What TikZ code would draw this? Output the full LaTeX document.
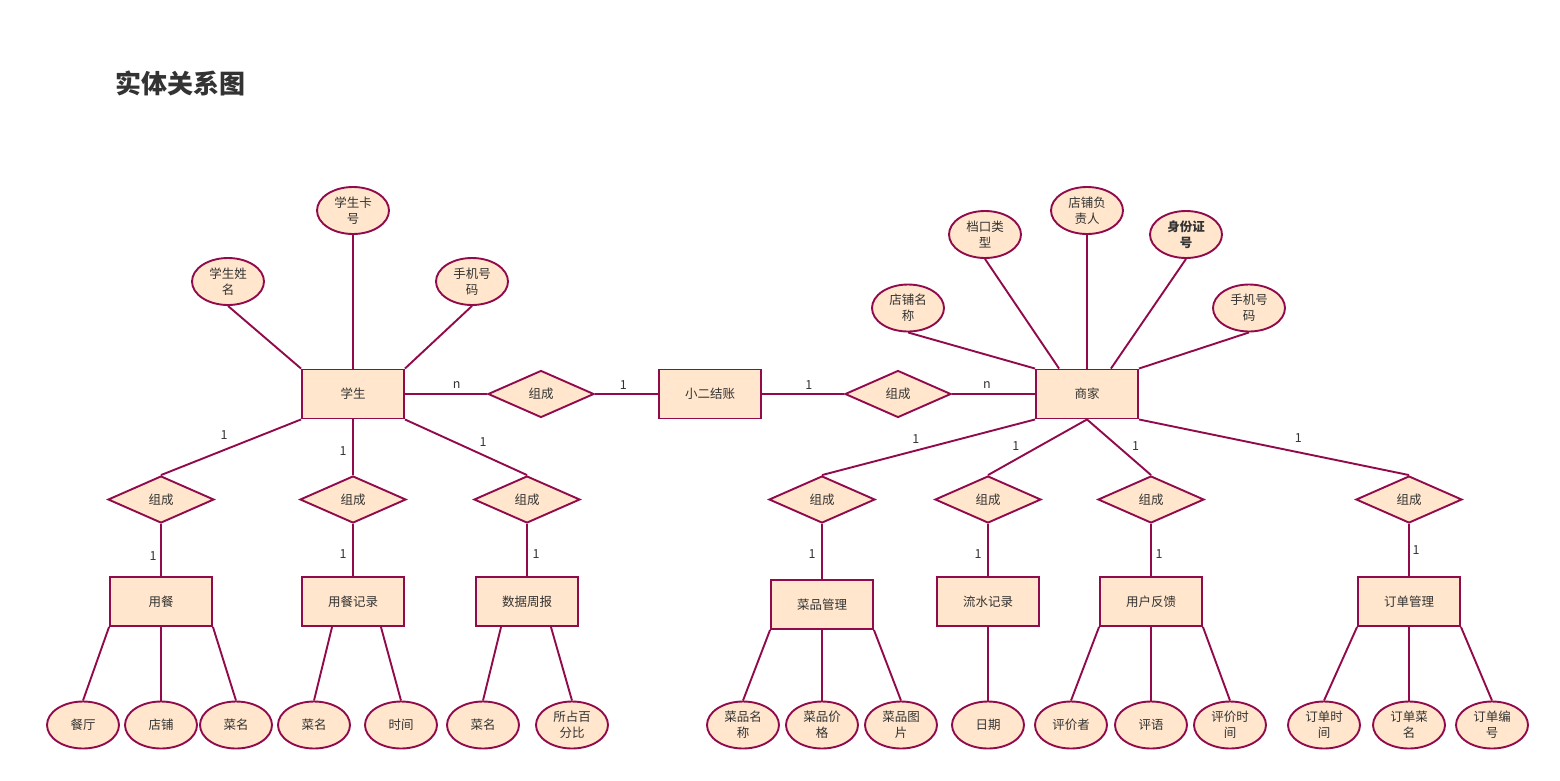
\documentclass[tikz,border=0pt]{standalone}
\usepackage{fontspec}
\newfontfamily\cjk{Noto Sans CJK SC}
\usetikzlibrary{shapes.geometric}
\definecolor{erline}{RGB}{145,10,75}
\definecolor{erfill}{RGB}{255,230,204}
\definecolor{ertext}{RGB}{51,51,51}
\tikzset{
	erbase/.style={draw=erline, fill=erfill, line width=1.9pt, inner sep=0pt, text=ertext, font=\cjk\fontsize{12.5}{16}\selectfont},
	ent/.style={erbase, rectangle, minimum width=102pt, minimum height=49pt},
	rel/.style={erbase, diamond, aspect=2.25, minimum width=106pt, minimum height=47pt},
	attr/.style={erbase, ellipse, minimum width=72pt, minimum height=47pt, align=center},
	conn/.style={draw=erline, line width=1.9pt},
	lbl/.style={text=ertext, inner sep=0pt, font=\cjk\fontsize{12.5}{16}\selectfont}
}
\begin{document}
\begin{tikzpicture}[x=1pt,y=-1pt]
	\useasboundingbox (0,0) rectangle (1560,780);
	\node[anchor=west, text=ertext, font=\cjk\bfseries\fontsize{26}{30}\selectfont] (title) at (112,83) {实体关系图};

	% entities
	\node[ent] (xs) at (353,394) {学生};
	\node[ent] (xe) at (710,394) {小二结账};
	\node[ent] (sj) at (1087,394) {商家};
	\node[ent] (yc) at (161,601.5) {用餐};
	\node[ent] (ycjl) at (353,601.5) {用餐记录};
	\node[ent] (sjzb) at (527,601.5) {数据周报};
	\node[ent] (cpgl) at (822,604.5) {菜品管理};
	\node[ent] (lsjl) at (988,601.5) {流水记录};
	\node[ent] (yhfk) at (1151,601.5) {用户反馈};
	\node[ent] (ddgl) at (1409,601.5) {订单管理};

	% relations
	\node[rel] (zc1) at (541,394) {组成};
	\node[rel] (zc2) at (898,394) {组成};
	\node[rel] (zc3) at (161,499.5) {组成};
	\node[rel] (zc4) at (353,499.5) {组成};
	\node[rel] (zc5) at (527,499.5) {组成};
	\node[rel] (zc6) at (822,499.5) {组成};
	\node[rel] (zc7) at (988,499.5) {组成};
	\node[rel] (zc8) at (1151,499.5) {组成};
	\node[rel] (zc9) at (1409,499.5) {组成};

	% attributes of the top entities
	\node[attr] (xskh) at (353,210.5) {学生卡\\号};
	\node[attr] (xsxm) at (228,281.5) {学生姓\\名};
	\node[attr] (xssj) at (472,281.5) {手机号\\码};
	\node[attr] (dpmc) at (908,308) {店铺名\\称};
	\node[attr] (dklx) at (985,234.5) {档口类\\型};
	\node[attr] (dpfz) at (1087,210.5) {店铺负\\责人};
	\node[attr, font=\cjk\bfseries\fontsize{12.5}{16}\selectfont] (sfzh) at (1186,234.5) {身份证\\号};
	\node[attr] (sjsj) at (1249,308) {手机号\\码};

	% attributes of the bottom entities
	\node[attr] (ct) at (83,725) {餐厅};
	\node[attr] (dp) at (161,725) {店铺};
	\node[attr] (cm1) at (236,725) {菜名};
	\node[attr] (cm2) at (314,725) {菜名};
	\node[attr] (sjan) at (401,725) {时间};
	\node[attr] (cm3) at (483,725) {菜名};
	\node[attr] (bfb) at (572,725) {所占百\\分比};
	\node[attr] (cpmc) at (743,725) {菜品名\\称};
	\node[attr] (cpjg) at (822,725) {菜品价\\格};
	\node[attr] (cptp) at (901,725) {菜品图\\片};
	\node[attr] (rq) at (988,725) {日期};
	\node[attr] (pjz) at (1071,725) {评价者};
	\node[attr] (py) at (1151,725) {评语};
	\node[attr] (pjsj) at (1230,725) {评价时\\间};
	\node[attr] (ddsj) at (1324,725) {订单时\\间};
	\node[attr] (ddcm) at (1409,725) {订单菜\\名};
	\node[attr] (ddbh) at (1492,725) {订单编\\号};

	% main chain
	\draw[conn] (xs.east) -- node[lbl, pos=.63, yshift=9pt] {n} (zc1.west);
	\draw[conn] (zc1.east) -- node[lbl, pos=.45, yshift=9pt] {1} (xe.west);
	\draw[conn] (xe.east) -- node[lbl, pos=.57, yshift=9pt] {1} (zc2.west);
	\draw[conn] (zc2.east) -- node[lbl, pos=.42, yshift=9pt] {n} (sj.west);

	% student side
	\draw[conn] (xs.south west) -- node[lbl, pos=.55, yshift=15pt] {1} (zc3.north);
	\draw[conn] (xs.south) -- node[lbl, pos=.57, xshift=-10pt] {1} (zc4.north);
	\draw[conn] (xs.south east) -- node[lbl, pos=.64, yshift=13pt] {1} (zc5.north);
	\draw[conn] (zc3.south) -- node[lbl, pos=.61, xshift=-8pt] {1} (yc.north);
	\draw[conn] (zc4.south) -- node[lbl, pos=.57, xshift=-10pt] {1} (ycjl.north);
	\draw[conn] (zc5.south) -- node[lbl, pos=.57, xshift=9pt] {1} (sjzb.north);

	% merchant side
	\draw[conn] (sj.south west) -- node[lbl, pos=.56, yshift=12pt] {1} (zc6.north);
	\draw[conn] (sj.south) -- node[lbl, pos=.72, yshift=13pt] {1} (zc7.north);
	\draw[conn] (sj.south) -- node[lbl, pos=.76, yshift=16pt] {1} (zc8.north);
	\draw[conn] (sj.south east) -- node[lbl, pos=.59, yshift=14pt] {1} (zc9.north);
	\draw[conn] (zc6.south) -- node[lbl, pos=.54, xshift=-10pt] {1} (cpgl.north);
	\draw[conn] (zc7.south) -- node[lbl, pos=.57, xshift=-10pt] {1} (lsjl.north);
	\draw[conn] (zc8.south) -- node[lbl, pos=.57, xshift=8pt] {1} (yhfk.north);
	\draw[conn] (zc9.south) -- node[lbl, pos=.5, xshift=7pt] {1} (ddgl.north);

	% attribute lines, top
	\draw[conn] (xsxm.south) -- (xs.north west);
	\draw[conn] (xskh.south) -- (xs.north);
	\draw[conn] (xssj.south) -- (xs.north east);
	\draw[conn] (dpmc.south) -- (sj.north west);
	\draw[conn] (dklx.south) -- ([xshift=24pt]sj.north west);
	\draw[conn] (dpfz.south) -- (sj.north);
	\draw[conn] (sfzh.south) -- ([xshift=-28pt]sj.north east);
	\draw[conn] (sjsj.south) -- (sj.north east);

	% attribute lines, bottom
	\draw[conn] (yc.south west) -- (ct.north);
	\draw[conn] (yc.south) -- (dp.north);
	\draw[conn] (yc.south east) -- (cm1.north);
	\draw[conn] ([xshift=31pt]ycjl.south west) -- (cm2.north);
	\draw[conn] ([xshift=-24pt]ycjl.south east) -- (sjan.north);
	\draw[conn] ([xshift=26pt]sjzb.south west) -- (cm3.north);
	\draw[conn] ([xshift=-28pt]sjzb.south east) -- (bfb.north);
	\draw[conn] (cpgl.south west) -- (cpmc.north);
	\draw[conn] (cpgl.south) -- (cpjg.north);
	\draw[conn] (cpgl.south east) -- (cptp.north);
	\draw[conn] (lsjl.south) -- (rq.north);
	\draw[conn] (yhfk.south west) -- (pjz.north);
	\draw[conn] (yhfk.south) -- (py.north);
	\draw[conn] (yhfk.south east) -- (pjsj.north);
	\draw[conn] (ddgl.south west) -- (ddsj.north);
	\draw[conn] (ddgl.south) -- (ddcm.north);
	\draw[conn] (ddgl.south east) -- (ddbh.north);
\end{tikzpicture}
\end{document}
